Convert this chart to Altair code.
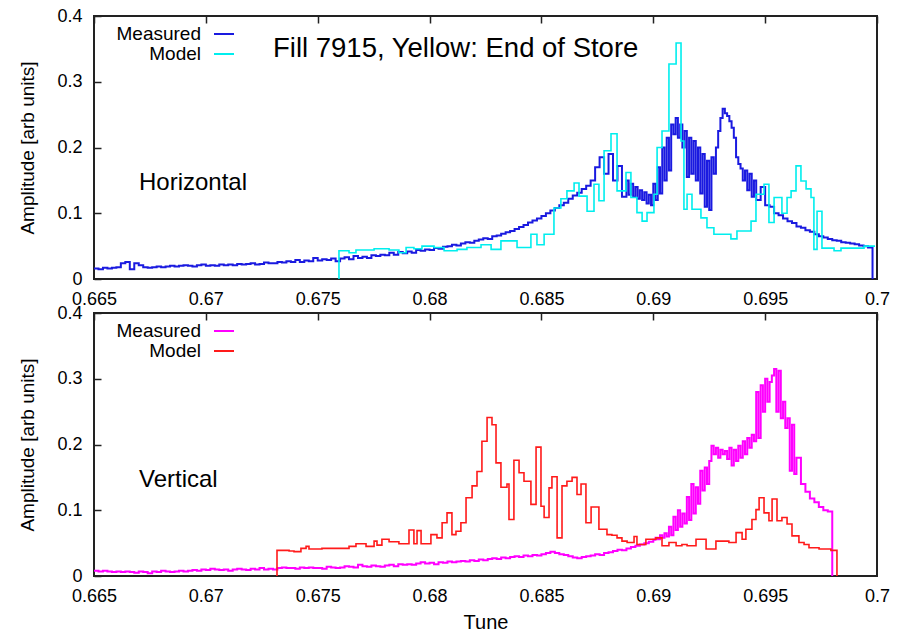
import altair as alt
import pandas as pd

# ---------------- data ----------------
TUNE_TICKS = [0.665, 0.67, 0.675, 0.68, 0.685, 0.69, 0.695, 0.7]
AMP_TICKS = [0, 0.1, 0.2, 0.3, 0.4]

# Horizontal, measured (blue): segments of (start tune, bin width, amplitudes)
H_MEAS_A_START, H_MEAS_A_STEP = 0.665, 0.0002
H_MEAS_A = [
    0.016, 0.015, 0.017, 0.016, 0.017,
    0.018, 0.024, 0.026, 0.015, 0.024,
    0.021, 0.018, 0.017, 0.018, 0.019,
    0.018, 0.019, 0.020, 0.019, 0.020,
    0.021, 0.020, 0.019, 0.021, 0.022,
    0.020, 0.021, 0.020, 0.022, 0.021,
    0.022, 0.021, 0.023, 0.022, 0.023,
    0.024, 0.022, 0.023, 0.025, 0.024,
    0.024, 0.026, 0.025, 0.027, 0.026,
    0.029, 0.026, 0.028, 0.027, 0.032,
    0.028, 0.030, 0.029, 0.031, 0.027,
    0.031, 0.033, 0.030, 0.035, 0.032,
    0.034, 0.032, 0.036, 0.035, 0.037,
    0.036, 0.040, 0.037, 0.041, 0.039,
    0.042, 0.040, 0.044, 0.043, 0.045,
    0.044, 0.047, 0.046, 0.049, 0.050,
    0.052, 0.051, 0.054, 0.056, 0.055,
    0.058, 0.060, 0.062, 0.061, 0.065,
    0.066, 0.069, 0.071, 0.073, 0.076,
    0.079, 0.082, 0.086, 0.089, 0.092,
    0.096, 0.100, 0.104, 0.108, 0.112,
    0.116, 0.122, 0.127, 0.131, 0.137,
    0.142, 0.150, 0.170, 0.185, 0.160,
    0.190, 0.150, 0.172, 0.125,
]
H_MEAS_B_START, H_MEAS_B_STEP = 0.6888, 0.0001
H_MEAS_B = [
    0.150, 0.128, 0.145, 0.125, 0.140, 0.122, 0.135, 0.120, 0.132, 0.115, 0.128, 0.112,
    0.145, 0.120, 0.170, 0.130, 0.200, 0.150, 0.215, 0.165, 0.235, 0.220,
    0.245, 0.215, 0.235, 0.200, 0.225, 0.155, 0.215, 0.160, 0.210, 0.150,
    0.200, 0.130, 0.190, 0.110, 0.180, 0.105, 0.185, 0.160, 0.200, 0.225,
    0.245, 0.259, 0.252, 0.248, 0.240, 0.230, 0.215, 0.185, 0.175, 0.168,
    0.150, 0.165, 0.135, 0.160, 0.125, 0.150, 0.120,
]
H_MEAS_C_START, H_MEAS_C_STEP = 0.6948, 0.0002
H_MEAS_C = [
    0.140, 0.112, 0.110, 0.100, 0.097, 0.092, 0.088, 0.085, 0.080, 0.078,
    0.074, 0.072, 0.068, 0.065, 0.063, 0.061, 0.059, 0.058, 0.056, 0.055,
    0.054, 0.053, 0.051, 0.050, 0.048, 0.000,
]

# Horizontal, model (cyan): bin left edges and amplitudes
H_MODEL_T = [
    0.67595, 0.67595, 0.6764, 0.67671, 0.67752, 0.67819, 0.67863, 0.67895, 0.6793, 0.67966,
    0.6802, 0.68065, 0.68123, 0.68167, 0.6823, 0.68275, 0.68319, 0.68391, 0.68453, 0.6848,
    0.68512, 0.68556, 0.68587, 0.68614, 0.68646, 0.68668, 0.68704, 0.68735, 0.68757, 0.6878,
    0.68811, 0.68838, 0.68878, 0.689, 0.68927, 0.6895, 0.68972, 0.69003, 0.69017, 0.69039,
    0.6907, 0.69102, 0.69124, 0.69137, 0.69151, 0.69173, 0.69213, 0.6924, 0.69271, 0.69347,
    0.69374, 0.69437, 0.69459, 0.69495, 0.69517, 0.6954, 0.69575, 0.69598, 0.69616, 0.69638,
    0.6966, 0.69683, 0.69705, 0.69718, 0.69732, 0.69754, 0.69808, 0.69839, 0.69942, 0.69991,
]
H_MODEL_V = [
    0.0, 0.043, 0.040, 0.044, 0.046, 0.044, 0.040, 0.048, 0.046, 0.050,
    0.048, 0.043, 0.045, 0.048, 0.052, 0.045, 0.058, 0.048, 0.068, 0.052,
    0.068, 0.108, 0.122, 0.134, 0.146, 0.126, 0.103, 0.144, 0.119, 0.195,
    0.221, 0.134, 0.162, 0.124, 0.101, 0.088, 0.101, 0.129, 0.200, 0.225,
    0.327, 0.359, 0.210, 0.106, 0.129, 0.106, 0.093, 0.078, 0.068, 0.061,
    0.073, 0.088, 0.129, 0.144, 0.086, 0.124, 0.100, 0.124, 0.134, 0.172,
    0.149, 0.137, 0.124, 0.045, 0.103, 0.047, 0.043, 0.047, 0.050, 0.050,
]

# Vertical, measured (magenta)
V_MEAS_A_START, V_MEAS_A_STEP = 0.665, 0.0002
V_MEAS_A = [
    0.008, 0.007, 0.008, 0.007, 0.006,
    0.007, 0.006, 0.007, 0.006, 0.005,
    0.007, 0.006, 0.004, 0.007, 0.006,
    0.008, 0.007, 0.006, 0.007, 0.008,
    0.007, 0.008, 0.009, 0.008, 0.010,
    0.009, 0.011, 0.010, 0.009, 0.010,
    0.008, 0.010, 0.011, 0.010, 0.009,
    0.011, 0.010, 0.012, 0.010, 0.011,
    0.010, 0.012, 0.013, 0.012, 0.012,
    0.011, 0.013, 0.012, 0.013, 0.012,
    0.012, 0.011, 0.014, 0.013, 0.012,
    0.013, 0.015, 0.014, 0.013, 0.017,
    0.015, 0.014, 0.016, 0.015, 0.014,
    0.016, 0.017, 0.015, 0.018, 0.017,
    0.018, 0.017, 0.019, 0.021, 0.019,
    0.020, 0.018, 0.021, 0.020, 0.022,
    0.021, 0.022, 0.023, 0.022, 0.024,
    0.023, 0.025, 0.024, 0.026, 0.027,
    0.026, 0.028, 0.027, 0.029, 0.030,
    0.029, 0.031, 0.030, 0.032, 0.031,
    0.033, 0.035, 0.037, 0.035, 0.033,
    0.032, 0.030, 0.028, 0.027, 0.029,
    0.030, 0.031, 0.033, 0.032, 0.035,
    0.036, 0.038, 0.040, 0.039, 0.042,
    0.044, 0.046, 0.048, 0.050, 0.052,
]
V_MEAS_B_START, V_MEAS_B_STEP = 0.6900, 0.0001
V_MEAS_B = [
    0.055, 0.058, 0.056, 0.062, 0.058, 0.065, 0.060, 0.075, 0.062, 0.090,
    0.070, 0.100, 0.075, 0.095, 0.080, 0.120, 0.085, 0.140, 0.095, 0.135,
    0.110, 0.160, 0.130, 0.165, 0.140, 0.175, 0.198, 0.185, 0.195, 0.180,
    0.192, 0.185, 0.190, 0.178, 0.195, 0.168, 0.192, 0.175, 0.198, 0.180,
    0.205, 0.185, 0.210, 0.195, 0.215, 0.205, 0.280, 0.210, 0.290, 0.250,
    0.300, 0.265, 0.295, 0.305, 0.315, 0.250, 0.312, 0.240, 0.265, 0.225,
    0.240, 0.160, 0.230, 0.155, 0.180,
]
V_MEAS_C_START, V_MEAS_C_STEP = 0.6966, 0.0002
V_MEAS_C = [0.140, 0.128, 0.118, 0.112, 0.105, 0.100, 0.098, 0.000]

# Vertical, model (red)
V_MODEL_T = [
    0.67318, 0.67318, 0.67372, 0.67394, 0.67425, 0.67448, 0.67461, 0.67519, 0.6764, 0.67671,
    0.67716, 0.67752, 0.67765, 0.67787, 0.67819, 0.67863, 0.67908, 0.6793, 0.67944, 0.67962,
    0.68006, 0.68033, 0.68056, 0.68078, 0.681, 0.68118, 0.6814, 0.68163, 0.6819, 0.68212,
    0.68234, 0.68257, 0.68279, 0.68297, 0.68319, 0.68346, 0.68355, 0.68377, 0.684, 0.68422,
    0.68453, 0.68476, 0.68498, 0.68512, 0.68534, 0.68547, 0.6857, 0.68592, 0.68614, 0.68637,
    0.68659, 0.68677, 0.68699, 0.68722, 0.68757, 0.68793, 0.68815, 0.68838, 0.6886, 0.68883,
    0.68914, 0.68927, 0.68967, 0.69012, 0.69039, 0.6907, 0.69102, 0.69128, 0.69151, 0.69191,
    0.69236, 0.6928, 0.69338, 0.6937, 0.69397, 0.69414, 0.69441, 0.69459, 0.69473, 0.69495,
    0.69517, 0.69531, 0.69553, 0.69575, 0.69598, 0.6962, 0.69651, 0.69674, 0.69696, 0.69741,
    0.69794, 0.69821,
]
V_MODEL_V = [
    0.0, 0.039, 0.038, 0.037, 0.042, 0.045, 0.041, 0.042, 0.045, 0.049,
    0.045, 0.053, 0.047, 0.056, 0.052, 0.049, 0.070, 0.049, 0.069, 0.049,
    0.063, 0.058, 0.081, 0.096, 0.063, 0.068, 0.081, 0.119, 0.137, 0.159,
    0.205, 0.241, 0.230, 0.172, 0.135, 0.140, 0.086, 0.176, 0.157, 0.144,
    0.109, 0.196, 0.106, 0.089, 0.134, 0.151, 0.058, 0.137, 0.144, 0.150,
    0.124, 0.140, 0.081, 0.105, 0.071, 0.063, 0.062, 0.058, 0.053, 0.051,
    0.060, 0.048, 0.056, 0.058, 0.046, 0.051, 0.046, 0.048, 0.046, 0.056,
    0.041, 0.053, 0.051, 0.066, 0.056, 0.071, 0.086, 0.101, 0.119, 0.096,
    0.084, 0.117, 0.084, 0.089, 0.079, 0.061, 0.051, 0.048, 0.043, 0.041,
    0.039, 0.0,
]

TITLE = "Fill 7915, Yellow: End of Store"
SERIES = ["Measured", "Model"]

# ---------------- build tables ----------------
def segments(*segs):
    tunes, amps = [], []
    for start, step, vals in segs:
        for i, v in enumerate(vals):
            tunes.append(round(start + i * step, 6))
            amps.append(v)
    return tunes, amps


def table(tunes, amps):
    return pd.DataFrame({"tune": tunes, "amp": amps, "i": list(range(len(tunes)))})


h_meas = table(*segments((H_MEAS_A_START, H_MEAS_A_STEP, H_MEAS_A),
                         (H_MEAS_B_START, H_MEAS_B_STEP, H_MEAS_B),
                         (H_MEAS_C_START, H_MEAS_C_STEP, H_MEAS_C)))
h_model = table(H_MODEL_T, H_MODEL_V)
v_meas = table(*segments((V_MEAS_A_START, V_MEAS_A_STEP, V_MEAS_A),
                         (V_MEAS_B_START, V_MEAS_B_STEP, V_MEAS_B),
                         (V_MEAS_C_START, V_MEAS_C_STEP, V_MEAS_C)))
v_model = table(V_MODEL_T, V_MODEL_V)
dummy = pd.DataFrame({"k": [0]})

W, H = 783, 263
FONT = "Liberation Sans"
FRAME = "#222222"

xscale = alt.Scale(domain=[0.665, 0.7], nice=False, zero=False)
yscale = alt.Scale(domain=[0, 0.4], nice=False, zero=False)


def x_axis(title):
    kw = dict(values=TUNE_TICKS, format="~g", labelFontSize=18, labelPadding=11,
              labelFlush=False, labelOverlap=False, labelColor="black",
              ticks=False, domain=False, grid=True, gridDash=[7, H - 7],
              gridColor=FRAME, gridWidth=1.5, gridOpacity=1,
              titleFontSize=20, titleFontWeight="normal", titlePadding=7,
              titleColor="black")
    return alt.Axis(title=title, **kw)


y_axis = alt.Axis(values=AMP_TICKS, format="~g", labelFontSize=18, labelPadding=12,
                  labelFlush=False, labelOverlap=False, labelColor="black",
                  ticks=False, domain=False, grid=True, gridDash=[7, W - 7],
                  gridColor=FRAME, gridWidth=1.5, gridOpacity=1,
                  title="Amplitude [arb units]", titleFontSize=19,
                  titleFontWeight="normal", titlePadding=19, titleColor="black")


def line(df, color, width, xtitle):
    return alt.Chart(df).mark_line(interpolate="step-after", color=color,
                                   strokeWidth=width).encode(
        x=alt.X("tune:Q", scale=xscale, axis=x_axis(xtitle)),
        y=alt.Y("amp:Q", scale=yscale, axis=y_axis),
        order=alt.Order("i:Q"),
    )


def text(s, x, y, size, align="left"):
    return alt.Chart(dummy).mark_text(text=s, align=align, baseline="middle",
                                      fontSize=size, font=FONT, color="black").encode(
        x=alt.value(x), y=alt.value(y))


def sample(color, y):
    return alt.Chart(dummy).mark_rule(color=color, strokeWidth=2).encode(
        x=alt.value(120), x2=alt.value(140), y=alt.value(y))


def panel(meas, model, c_meas, c_model, label, xtitle, extra=None):
    layers = [
        line(meas, c_meas, 2.0, xtitle),
        line(model, c_model, 1.6, xtitle),
        text(SERIES[0], 107, 18, 19, "right"),
        text(SERIES[1], 107, 38, 19, "right"),
        sample(c_meas, 18),
        sample(c_model, 38),
        text(label, 45, 167, 24),
    ]
    if extra is not None:
        layers.append(extra)
    return alt.layer(*layers).properties(width=W, height=H)


top = panel(h_meas, h_model, "#1a1ae0", "#00eeee", "Horizontal", None,
            extra=text(TITLE, 179, 33, 27.5))
bottom = panel(v_meas, v_model, "#ff00ff", "#ff1a1a", "Vertical", "Tune")

chart = alt.vconcat(top, bottom, spacing=34, bounds="flush").properties(
    padding={"left": 17, "top": 6, "right": 10, "bottom": 5},
    background="white",
).configure(font=FONT).configure_view(stroke=FRAME, strokeWidth=2)

chart.save("out.html", embed_options={"renderer": "svg", "actions": False})
